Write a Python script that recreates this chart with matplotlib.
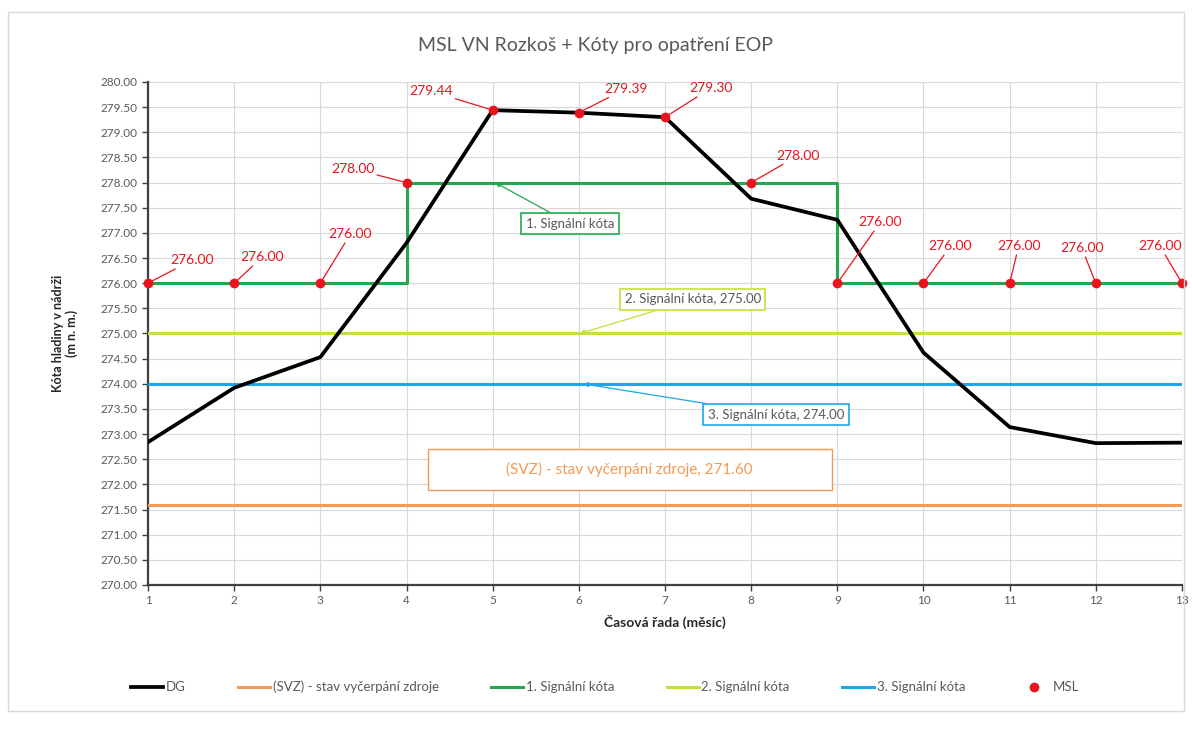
import matplotlib
matplotlib.use('Agg')
import matplotlib.pyplot as plt
from matplotlib.patches import Rectangle

plt.rcParams['font.family'] = ['Lato', 'DejaVu Sans']

# data
months = [1, 2, 3, 4, 5, 6, 7, 8, 9, 10, 11, 12, 13]
dg = [272.84, 273.92, 274.53, 276.80, 279.44, 279.39, 279.30, 277.68, 277.26, 274.62, 273.14, 272.82, 272.83]
svz = 271.60
sig2 = 275.00
sig3 = 274.00
# step line of 1. signalni kota
sig1_x = [1, 2, 3, 4, 4, 5, 6, 7, 8, 9, 9, 10, 11, 12, 13]
sig1_y = [276, 276, 276, 276, 278, 278, 278, 278, 278, 278, 276, 276, 276, 276, 276]
msl = [276.00, 276.00, 276.00, 278.00, 279.44, 279.39, 279.30, 278.00, 276.00, 276.00, 276.00, 276.00, 276.00]

# label offsets (pixels) for MSL data labels
lab_off = [(44, 23), (28, 26), (30, 49), (-54, 14), (-62, 19), (47, 24), (46, 29),
           (47, 27), (43, 61), (27, 37), (9, 37), (-14, 35), (-22, 37)]

c_dg = 'black'
c_svz = '#F39A55'
c_s1 = '#22A84E'
c_s2 = '#C6DF3A'
c_s3 = '#1EA7E6'
c_msl = '#E8141E'
c_txt = '#595959'

fig = plt.figure(figsize=(11.92, 7.38), dpi=100)
fig.patches.append(Rectangle((8 / 1192, 1 - 711 / 738), 1176 / 1192, 699 / 738,
                             transform=fig.transFigure, fill=False, edgecolor='#D9D9D9', lw=1))
ax = fig.add_axes([148 / 1192, 1 - 585 / 738, 1034 / 1192, 503 / 738])

ax.plot(months, dg, color=c_dg, lw=2.7, label='DG', zorder=5)
ax.plot([months[0], months[-1]], [svz, svz], color=c_svz, lw=2.2, label='(SVZ) - stav vyčerpání zdroje', zorder=4)
ax.plot(sig1_x, sig1_y, color=c_s1, lw=2.2, label='1. Signální kóta', zorder=4)
ax.plot([months[0], months[-1]], [sig2, sig2], color=c_s2, lw=2.2, label='2. Signální kóta', zorder=4)
ax.plot([months[0], months[-1]], [sig3, sig3], color=c_s3, lw=2.2, label='3. Signální kóta', zorder=4)
ax.plot(months, msl, 'o', color=c_msl, ms=6, label='MSL', zorder=6, clip_on=False)

for m, v, off in zip(months, msl, lab_off):
    ax.annotate(f'{v:.2f}', xy=(m, v), xytext=off, textcoords='offset pixels',
                ha='center', va='center', fontsize=10, color=c_msl,
                arrowprops=dict(arrowstyle='-', color=c_msl, lw=0.9, shrinkA=0, shrinkB=3),
                zorder=7)

ax.annotate('1. Signální kóta', xy=(5.03, 278), xytext=(75, -41), textcoords='offset pixels',
            ha='center', va='center', fontsize=9.5, color=c_txt,
            bbox=dict(boxstyle='square,pad=0.35', fc='white', ec=c_s1, lw=1.2),
            arrowprops=dict(arrowstyle='-|>', color=c_s1, lw=0.9, mutation_scale=7, shrinkA=0, shrinkB=0),
            zorder=7)
ax.annotate('2. Signální kóta, 275.00', xy=(6.01, sig2), xytext=(113, 34), textcoords='offset pixels',
            ha='center', va='center', fontsize=9.5, color=c_txt,
            bbox=dict(boxstyle='square,pad=0.35', fc='white', ec=c_s2, lw=1.2),
            arrowprops=dict(arrowstyle='-|>', color=c_s2, lw=0.9, mutation_scale=7, shrinkA=0, shrinkB=0),
            zorder=7)
ax.annotate('3. Signální kóta, 274.00', xy=(6.05, sig3), xytext=(193, -31), textcoords='offset pixels',
            ha='center', va='center', fontsize=9.5, color=c_txt,
            bbox=dict(boxstyle='square,pad=0.35', fc='white', ec=c_s3, lw=1.2),
            arrowprops=dict(arrowstyle='-|>', color=c_s3, lw=0.9, mutation_scale=7, shrinkA=0, shrinkB=0),
            zorder=7)
ax.add_patch(Rectangle((4.25, 271.89), 4.69, 0.81, fill=True, fc='white', ec=c_svz, lw=1, zorder=6))
ax.text(6.59, 272.30, '(SVZ) - stav vyčerpání zdroje, 271.60', ha='center', va='center',
        fontsize=11, color=c_svz, zorder=7)

ax.set_xlim(1, 13)
ax.set_ylim(270, 280)
ax.set_xticks(months)
ax.set_yticks([270 + 0.5 * i for i in range(21)])
ax.set_yticklabels([f'{270 + 0.5 * i:.2f}' for i in range(21)])
ax.grid(True, color='#D9D9D9', lw=0.8)
ax.set_axisbelow(True)
for s in ['top', 'right']:
    ax.spines[s].set_visible(False)
for s in ['left', 'bottom']:
    ax.spines[s].set_color('#404040')
    ax.spines[s].set_linewidth(1.6)
ax.tick_params(axis='both', colors='#404040', labelcolor=c_txt, labelsize=8.5, length=4, width=1)

ax.set_xlabel('Časová řada (měsíc)', fontsize=10, fontweight='bold', color='#262626', labelpad=6)
ax.set_ylabel('Kóta hladiny v nádrži\n(m n. m.)', fontsize=9, fontweight='bold', color='#262626', labelpad=16)

fig.text(595 / 1192, 1 - 45 / 738, 'MSL VN Rozkoš + Kóty pro opatření EOP', ha='center', va='center',
         fontsize=14, color=c_txt)

fig.legend(loc='center', bbox_to_anchor=(605 / 1192, 1 - 687 / 738), ncol=6, frameon=False,
           fontsize=9.5, handlelength=2.4, handletextpad=0.2, columnspacing=4.0, labelcolor=c_txt)

fig.savefig('out.png', dpi=100)
